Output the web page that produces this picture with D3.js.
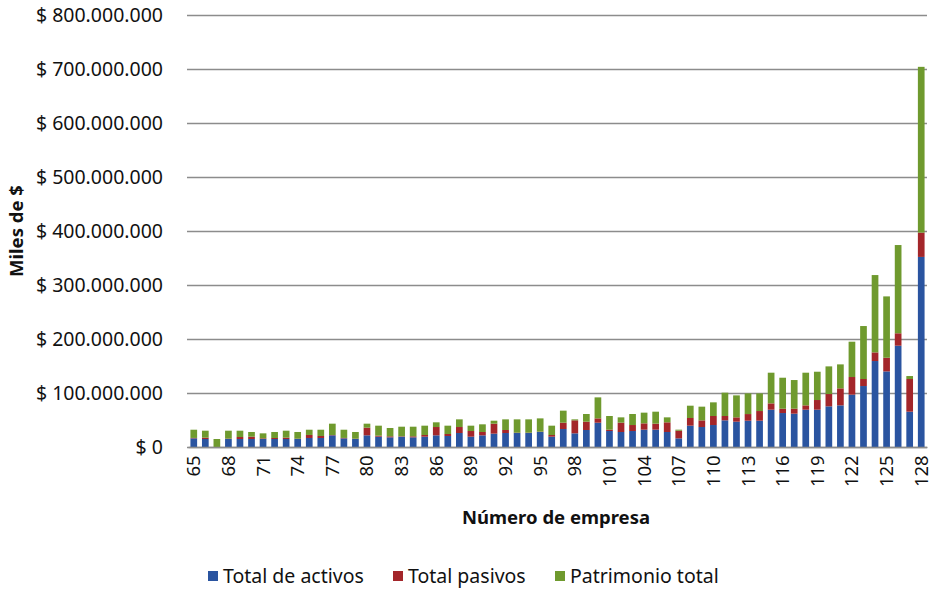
<!DOCTYPE html>
<html>
<head>
<meta charset="utf-8">
<script src="https://cdn.jsdelivr.net/npm/d3@7"></script>
<style>
  body { margin: 0; background: #fff; }
  text { font-family: "Noto Sans", "Open Sans", sans-serif; fill: #111; }
</style>
</head>
<body>
<script>
// categories (número de empresa)
const empresas = [65, 66, 67, 68, 69, 70, 71, 72, 73, 74, 75, 76, 77, 78, 79, 80,
  81, 82, 83, 84, 85, 86, 87, 88, 89, 90, 91, 92, 93, 94, 95, 96,
  97, 98, 99, 100, 101, 102, 103, 104, 105, 106, 107, 108, 109, 110, 111, 112,
  113, 114, 115, 116, 117, 118, 119, 120, 121, 122, 123, 124, 125, 126, 127, 128];

// values in millones (miles de $ / 1.000.000)
const totalActivos = [16, 14.8, 0, 14.8, 14.8, 14.8, 14.8, 14.8, 14.8, 14.8, 16.7, 16.7, 21.6, 16, 14.8, 21.6,
  19.1, 17.9, 19.1, 17.9, 19.1, 21.6, 20.4, 25.9, 19.1, 21.6, 24.7, 25.9, 25.9, 25.9, 27.8, 19.1,
  33.3, 25.3, 31.5, 45, 29.6, 27.8, 29.6, 32.1, 32.1, 27.8, 16, 39.5, 37, 40.7, 49.4, 46.9,
  48.7, 48.7, 69.1, 62.9, 61.7, 69.1, 69.1, 75.3, 77.1, 96.9, 112.9, 159.2, 140, 187.6, 65.4, 352];

const totalPasivos = [0.8, 2.5, 0, 0.8, 3.7, 4.3, 1.2, 1.9, 2.5, 0.6, 5.6, 3.7, 0.6, 0.8, 0.6, 14.2,
  1.9, 1.9, 0.8, 1.9, 3.1, 15.4, 3.7, 11.1, 10.5, 6.2, 18.5, 5.6, 0.6, 0.6, 0.6, 3.1,
  11.7, 24.1, 15.4, 8, 2.5, 17.3, 11.1, 11.7, 11.1, 17.9, 14.2, 14.2, 12.3, 16.7, 8, 8,
  12.3, 17.9, 11.7, 8, 9.3, 8, 17.9, 22.8, 31.5, 32.7, 13, 16, 25.3, 23, 60.5, 45];

const patrimonioTotal = [15.2, 12.9, 14.8, 14.6, 11.7, 8.7, 9.3, 11.1, 12.9, 12.4, 9.7, 11.6, 21, 15.2, 12.4, 7.4,
  18.5, 15.4, 17.7, 17.8, 17.3, 8.7, 15.4, 14.2, 9.9, 14.2, 5.5, 19.7, 24.7, 24.7, 24.6, 17.3,
  22.3, 1.8, 14.2, 38.9, 25.3, 9.8, 20.4, 19.8, 22.2, 9.2, 1.9, 22.8, 25.4, 25.3, 43.2, 40.7,
  38.3, 32.7, 56.8, 57.4, 53, 60.5, 52.4, 51.2, 44.4, 65.4, 98.1, 143.2, 113.6, 163.4, 5.5, 307];

const yTicks = [0, 100, 200, 300, 400, 500, 600, 700, 800];
const xTickLabels = [65, 68, 71, 74, 77, 80, 83, 86, 89, 92, 95, 98, 101, 104, 107, 110, 113, 116, 119, 122, 125, 128];

const seriesNames = ["Total de activos", "Total pasivos", "Patrimonio total"];
const seriesKeys = ["activos", "pasivos", "patrimonio"];
const colors = ["#2a54a0", "#a3262a", "#6f9a2e"];

const width = 936, height = 590;
const margin = { top: 15, right: 9, bottom: 143, left: 188 };

const svg = d3.select("body").append("svg")
  .attr("width", width)
  .attr("height", height);

const table = empresas.map((e, i) => ({
  empresa: e,
  activos: totalActivos[i],
  pasivos: totalPasivos[i],
  patrimonio: patrimonioTotal[i]
}));

const stacked = d3.stack().keys(seriesKeys)(table);

const x = d3.scaleBand()
  .domain(empresas)
  .range([margin.left, width - margin.right])
  .paddingInner(0.42)
  .paddingOuter(0.21);

const y = d3.scaleLinear()
  .domain([0, 800])
  .range([height - margin.bottom, margin.top]);

const loc = d3.formatLocale({ decimal: ",", thousands: ".", grouping: [3], currency: ["$ ", ""] });
const fmt = loc.format("$,.0f");

// gridlines
svg.append("g")
  .attr("class", "grid")
  .attr("transform", `translate(${margin.left - 1},0)`)
  .call(d3.axisLeft(y).tickValues(yTicks).tickSize(-(width - margin.right - margin.left + 1)).tickFormat(""))
  .call(g => g.select(".domain").remove())
  .call(g => g.selectAll("line").attr("stroke", "#8c8c8c").attr("stroke-width", 1.3));

// y labels
svg.append("g")
  .attr("transform", `translate(${margin.left - 1},0)`)
  .call(d3.axisLeft(y).tickValues(yTicks).tickSize(0).tickPadding(24).tickFormat(d => fmt(d * 1e6)))
  .call(g => g.select(".domain").remove())
  .call(g => g.selectAll("text").style("font-size", "19.5px").attr("fill", "#111"));

// bars
svg.append("g")
  .selectAll("g")
  .data(stacked)
  .join("g")
  .attr("fill", (d, i) => colors[i])
  .selectAll("rect")
  .data(d => d)
  .join("rect")
  .attr("x", d => x(d.data.empresa))
  .attr("width", x.bandwidth())
  .attr("y", d => y(d[1]))
  .attr("height", d => y(d[0]) - y(d[1]));

// x axis
svg.append("g")
  .attr("transform", `translate(0,${height - margin.bottom})`)
  .call(d3.axisBottom(x).tickValues(xTickLabels).tickSize(0).tickPadding(0))
  .call(g => g.select(".domain").attr("stroke", "#8c8c8c").attr("stroke-width", 1.3))
  .call(g => g.selectAll("text")
    .style("font-size", "18.5px")
    .attr("fill", "#111")
    .attr("text-anchor", "end")
    .attr("transform", "rotate(-90)")
    .attr("dy", "0.35em")
    .attr("dx", "-0.45em")
    .attr("y", 0)
    .attr("x", 0));

// axis titles
svg.append("text")
  .attr("transform", `translate(23,${(margin.top + height - margin.bottom) / 2}) rotate(-90)`)
  .attr("text-anchor", "middle")
  .style("font-size", "18.5px")
  .style("font-weight", "bold")
  .text("Miles de $");

svg.append("text")
  .attr("x", 556)
  .attr("y", 524)
  .attr("text-anchor", "middle")
  .style("font-size", "18.5px")
  .style("font-weight", "bold")
  .text("Número de empresa");

// legend
const legendX = [208, 393, 555];
const legend = svg.append("g")
  .selectAll("g")
  .data(seriesNames)
  .join("g")
  .attr("transform", (d, i) => `translate(${legendX[i]},576)`);

legend.append("rect")
  .attr("x", 0).attr("y", -5)
  .attr("width", 10).attr("height", 10)
  .attr("fill", (d, i) => colors[i]);

legend.append("text")
  .attr("x", 15)
  .attr("dy", "0.35em")
  .style("font-size", "19.5px")
  .text(d => d);
</script>
</body>
</html>
